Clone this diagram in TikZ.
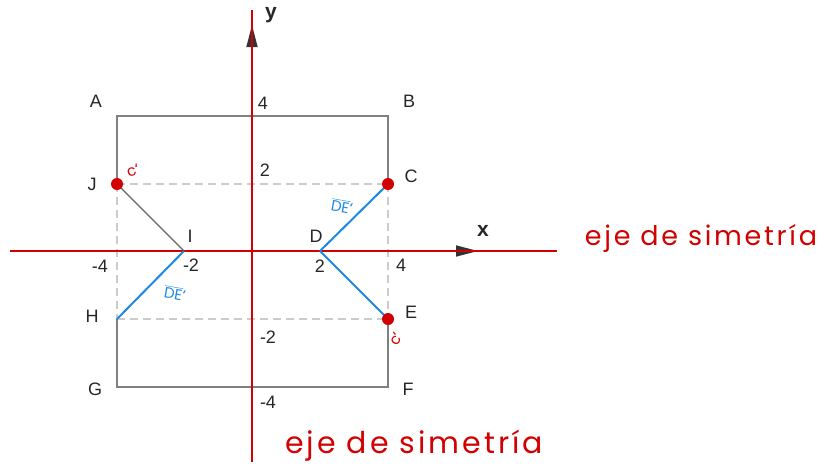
\documentclass[tikz,border=0pt]{standalone}
\usepackage{fontspec}
\setmainfont{Liberation Sans}
\newfontfamily\handfont{Poppins}[LetterSpace=10]
\newfontfamily\handsm{Poppins}
\usetikzlibrary{arrows.meta}
\definecolor{axred}{RGB}{210,0,0}
\definecolor{segblue}{RGB}{30,136,229}
\begin{document}
\begin{tikzpicture}[x=1pt,y=-1pt,
  lbl/.style={font=\fontsize{18}{18}\selectfont, text=black!85, inner sep=0pt},
  axlbl/.style={font=\bfseries\fontsize{21}{21}\selectfont, text=black!85, inner sep=0pt},
  sq/.style={draw=black!50, line width=1.5pt},
  dsh/.style={draw=black!20, line width=1.5pt, dash pattern=on 8pt off 5pt},
  seg/.style={draw=segblue, line width=2pt},
  redaxis/.style={draw=axred, line width=2pt},
  blkaxis/.style={draw=black!80, line width=1.5pt, -{Triangle[length=22pt,width=11pt]}},
  hand/.style={font=\handfont\fontsize{27}{27}\selectfont, text=axred, inner sep=0pt},
  handbig/.style={font=\handfont\fontsize{30}{30}\selectfont, text=axred, inner sep=0pt},
  handsmall/.style={font=\handsm\fontsize{15}{15}\selectfont, inner sep=0pt},
  dot/.style={fill=axred}
]
\useasboundingbox (0,0) rectangle (829,472);
% points
\coordinate (A) at (117,116);
\coordinate (B) at (388,116);
\coordinate (C) at (388,184);
\coordinate (E) at (388,319);
\coordinate (F) at (388,387);
\coordinate (G) at (117,387);
\coordinate (H) at (117,319);
\coordinate (J) at (117,184);
\coordinate (I) at (184,251);
\coordinate (D) at (320,251);
\coordinate (xl) at (10,251);
\coordinate (xa) at (478,251);
\coordinate (xr) at (557,251);
\coordinate (yb) at (252,462);
\coordinate (yab) at (252,440);
\coordinate (ya) at (252,25);
\coordinate (yt) at (252,10);
% dashed guides
\draw[dsh] (J) -- (C);
\draw[dsh] (H) -- (E);
\draw[dsh] (J) -- (H);
\draw[dsh] (C) -- (E);
% square
\draw[sq] (J) -- (A) -- (B) -- (C);
\draw[sq] (E) -- (F) -- (G) -- (H);
\draw[black!60, line width=1.2pt] (J) -- (I);
% axes
\draw[blkaxis] (xl) -- (xa);
\draw[blkaxis] (yab) -- (ya);
\draw[redaxis] (xl) -- (xr);
\draw[redaxis] (yb) -- (yt);
% blue segments
\draw[seg] (I) -- (H);
\draw[seg] (D) -- (C);
\draw[seg] (D) -- (E);
% dots
\fill[dot] (J) circle (6pt);
\fill[dot] (C) circle (6pt);
\fill[dot] (E) circle (6pt);
% letters
\node[lbl] (lA) at (96,101) {A};
\node[lbl] (lB) at (409,101) {B};
\node[lbl] (lC) at (411,176) {C};
\node[lbl] (lJ) at (92,184) {J};
\node[lbl] (lH) at (92,316) {H};
\node[lbl] (lG) at (95,389) {G};
\node[lbl] (lF) at (408,389) {F};
\node[lbl] (lE) at (411,312) {E};
\node[lbl] (lI) at (190,236) {I};
\node[lbl] (lD) at (316,236) {D};
% numbers
\node[lbl] (n4y) at (263,103) {4};
\node[lbl] (n2y) at (265,170) {2};
\node[lbl] (nm4x) at (100,266) {-4};
\node[lbl] (nm2x) at (191,265) {-2};
\node[lbl] (n2x) at (320,266) {2};
\node[lbl] (n4x) at (401,265) {4};
\node[lbl] (nm2y) at (268,337) {-2};
\node[lbl] (nm4y) at (268,402) {-4};
\node[axlbl] (lx) at (483,231) {x};
\node[axlbl] (ly) at (271,15) {y};
% handwritten marks
\node[handsmall, text=axred, rotate=20] (cJ) at (133,171) {c‘};
\node[handsmall, text=axred, rotate=60] (cE) at (396,339) {c‘};
\node[handsmall, text=segblue, rotate=-10] (de1) at (342,206) {$\overline{\hbox{\handsm DE}}$‘};
\node[handsmall, text=segblue, rotate=-10] (de2) at (175,293) {$\overline{\hbox{\handsm DE}}$‘};
\node[hand] (ejeR) at (701,238) {eje de simetría};
\node[handbig] (ejeB) at (414,446) {eje de simetría};
\end{tikzpicture}
\end{document}
